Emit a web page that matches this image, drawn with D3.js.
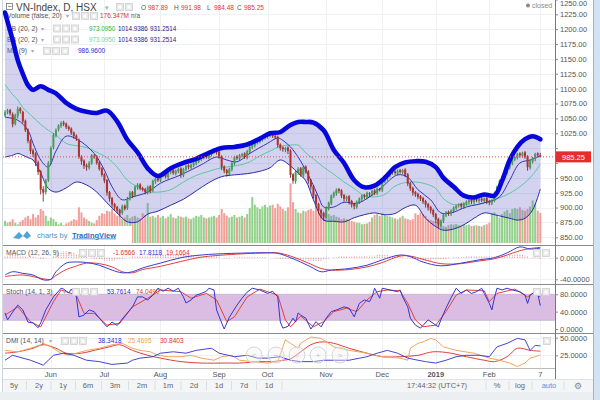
<!DOCTYPE html>
<html><head><meta charset="utf-8">
<script src="https://cdn.jsdelivr.net/npm/d3@7"></script>
<style>
html,body{margin:0;padding:0;background:#fff;overflow:hidden;}
svg{display:block;font-family:"Liberation Sans",Arial,sans-serif;}
</style></head><body>
<svg id="c" width="600" height="400"></svg>
<script>
// ---------- DATA ----------
const opens=[1055,1060,1064,1057,1041,1054,1067,1061,1046,1031,
1013,996,991,976,961,931,926,946,976,1001,
1021,1031,1037,1043,1041,1036,1033,1026,1021,1014,
986,979,971,967,974,987,986,976,966,956,
946,926,916,906,901,896,891,903,899,914,
926,921,934,939,933,931,925,936,929,944,
949,945,954,959,951,959,963,957,961,966,
954,964,971,967,971,974,977,981,984,991,
984,989,994,999,994,986,969,963,957,964,
974,986,982,987,991,984,994,1001,1004,1009,
1011,1014,1017,1019,1021,1026,1021,1019,1006,1001,
997,1001,996,956,944,959,966,954,969,961,
946,936,921,906,896,891,884,899,907,919,
924,931,929,921,914,919,911,906,901,909,
914,921,917,924,921,929,924,931,929,944,
949,954,959,961,957,963,959,964,956,941,
933,926,923,919,916,911,906,901,896,889,
881,871,877,887,893,889,894,899,904,906,
901,906,909,913,909,914,911,915,911,916,
911,907,911,924,934,944,951,959,967,974,
981,984,991,987,993,986,967,977,982,991,987.89];
const closes=[1060,1063,1058,1040,1055,1066,1062,1045,1030,1012,
995,990,975,960,930,925,945,975,1000,1022,
1030,1038,1042,1040,1035,1032,1025,1020,1015,985,
978,970,968,975,988,985,975,965,955,945,
925,915,905,900,895,890,902,898,915,925,
920,935,938,932,930,926,935,928,945,948,
946,955,958,952,960,962,958,962,965,955,
965,970,968,972,975,978,982,985,990,985,
990,995,998,993,985,968,962,958,965,975,
985,983,988,990,985,995,1002,1005,1010,1012,
1015,1018,1020,1022,1025,1020,1018,1005,1000,998,
1000,995,955,945,960,965,955,968,960,945,
935,920,905,895,890,885,900,908,920,925,
930,928,920,915,918,910,905,902,910,915,
920,918,925,922,928,925,932,930,945,950,
955,958,960,958,962,960,963,955,940,932,
925,922,918,915,910,905,900,895,888,880,
872,878,888,892,890,895,900,903,905,902,
907,910,912,910,913,912,914,912,915,910,
908,912,925,935,945,952,960,968,975,982,
985,990,988,992,985,968,978,983,990,988,985.25];
const highs=[1064,1066,1066,1060,1058,1070,1069,1063,1048,1033,
1015,999,993,979,963,936,948,978,1003,1025,
1033,1040,1045,1046,1043,1038,1035,1028,1023,1016,
988,981,974,978,990,990,988,978,968,958,
948,928,918,908,903,898,905,905,918,928,
928,937,941,941,935,933,937,938,947,950,
951,957,960,961,962,964,965,964,967,968,
967,972,973,974,977,980,984,987,992,993,
992,997,1000,1001,996,988,971,965,967,977,
987,988,990,992,993,997,1004,1007,1012,1014,
1017,1020,1022,1024,1027,1028,1023,1021,1008,1003,
1002,1003,998,958,962,968,968,970,971,963,
948,938,923,908,898,893,902,910,922,927,
932,933,931,923,920,921,913,908,912,917,
922,923,927,926,930,931,934,933,947,952,
957,960,962,963,964,965,965,966,958,943,
935,928,925,921,918,913,908,903,898,891,
883,880,890,894,895,897,902,905,907,908,
909,912,914,915,915,916,916,917,917,918,
913,914,927,937,947,954,962,970,977,984,
987,992,993,994,995,988,980,985,992,993,991.98];
const lows=[1052,1057,1055,1035,1038,1050,1058,1042,1027,1008,
990,985,970,955,922,910,922,943,973,998,
1018,1028,1034,1037,1032,1029,1022,1016,1012,982,
972,965,962,964,972,982,972,962,952,941,
920,910,900,895,890,885,888,895,896,912,
916,918,930,929,927,922,922,924,926,940,
943,943,951,949,948,956,955,954,958,950,
951,961,964,964,968,971,975,978,981,982,
981,986,991,989,982,963,958,952,954,961,
971,980,980,984,982,981,990,998,1001,1006,
1008,1011,1014,1016,1018,1017,1015,1001,996,994,
993,990,950,940,940,955,952,950,957,940,
930,915,900,890,882,878,882,895,904,916,
920,924,916,910,911,905,900,897,898,906,
910,914,914,918,919,921,921,927,926,941,
945,951,955,955,954,957,956,951,936,928,
920,918,914,911,906,900,895,890,884,874,
866,868,874,884,886,886,891,896,900,898,
898,903,906,906,906,909,908,909,908,906,
904,904,909,921,931,941,948,956,964,971,
978,981,984,984,982,962,964,974,978,984,984.48];
// volume in millions
const volumes=[130,120,125,140,118,110,125,135,150,160,
140,170,150,165,200,190,160,130,150,140,
125,110,118,105,115,120,130,140,135,210,
180,150,140,130,120,115,135,160,175,170,
190,185,200,175,160,170,140,150,165,145,
155,160,150,145,175,165,235,155,160,150,
165,150,160,145,155,170,150,145,160,155,
150,155,145,140,150,160,155,165,150,145,
150,155,160,150,165,200,175,160,150,155,
165,150,155,160,150,170,205,270,225,210,
200,215,225,210,220,225,205,230,215,200,
190,210,350,240,200,180,175,190,185,195,
200,190,210,180,170,175,165,170,160,165,
155,150,140,145,140,135,130,125,120,118,
110,112,115,125,150,165,170,160,175,165,
160,155,150,145,140,150,160,145,140,135,
140,175,165,180,170,160,140,135,130,125,
115,110,100,95,105,110,108,112,105,100,
110,105,108,100,102,105,100,98,105,110,
120,175,180,165,150,170,185,195,175,200,
205,200,210,195,190,200,215,250,230,190,176.347];
// Bollinger bands (20,2), read at sample bars
const bbIdx=[0,3,5,7,9,11,14,17,20,24,28,32,36,40,44,48,52,56,60,65,70,75,80,85,90,95,100,104,108,112,115,118,121,125,129,133,137,141,145,149,153,157,161,165,169,172,176,180,184,188,192,195,198,201,204,207,210];
const bbUpper=[1228,1182,1148,1125,1106,1098,1104,1098,1092,1076,1066,1061,1059,1063,1045,1014,993,966,953,966,975,982,992,1000,1002,1006,1016,1025,1027,1039,1044,1044,1043,1030,997,975,946,934,937,950,968,976,978,977,968,950,935,920,917,922,920,945,980,1002,1015,1020,1014.94];
const bbLower=[985,988,991,988,984,980,958,932,926,933,943,938,926,908,891,876,876,889,894,904,914,928,942,952,955,957,961,967,980,970,958,945,913,879,877,876,883,888,891,888,890,900,904,882,868,862,864,871,882,891,888,885,882,879,882,896,931.25];
const bbBasis=[1107,1090,1081,1068,1060,1052,1040,1030,1022,1008,1004,1001,993,984,968,946,935,927,926,930,943,954,961,967,970,975,987,995,1003,1005,1005,992,982,968,956,943,932,920,918,922,936,942,943,940,932,915,905,906,904,908,913,918,924,932,942,955,973.1];
const maIdx=[0,5,9,11,14,17,20,24,29,35,39,42,46,50,56,61,69,77,83,87,91,96,103,107,109,112,113,116,120,123,125,129,133,138,143,148,154,158,162,167,171,175,181,189,194,198,202,206,210];
const ma9=[1052,1047,1030,1008,980,968,995,1020,1013,991,963,935,913,918,926,941,955,972,985,980,977,991,1008,1017,1013,1002,997,978,946,918,901,901,909,907,918,935,955,951,930,913,891,891,901,909,918,946,975,980,986.96];
// MACD (12,26,9)
const macdIdx=[0,3,7,11,15,18,20,24,27,32,37,42,46,50,54,61,69,77,89,103,107,112,116,120,124,128,135,142,148,155,159,164,171,179,186,192,197,202,206,210];
const macdLine=[-32,-26,-29,-32,-41,-40,-26,-10,-8,-9,-14,-23,-28,-26,-19,-10,0,5,8,9,8,0,-8,-17,-26,-23,-20,-14,-4,5,2,-8,-15,-10,-4,0,9,20,16,17.81];
const macdSignal=[-35,-33,-32,-35,-39,-40,-33,-22,-17,-10,-11,-17,-26,-28,-22,-16,-7,1,6,9,9,3,-4,-12,-20,-23,-22,-17,-9,3,3,-3,-11,-11,-6,-2,5,13,17,19.17];
const macdHist=[3,4,5,6,6,5,4,3,2,1,
2,3,1,-1,-2,-2,-1,0,0,4,
7,9,11,12,12,11,10,9,7,5,
4,2,1,0,-1,-2,-3,-3,-4,-5,
-5,-6,-6,-5,-4,-3,-2,-1,0,1,
2,3,3,3,3,4,4,5,5,6,
6,6,6,6,6,6,6,6,7,7,
6,6,5,5,5,4,4,4,3,3,
3,3,3,2,1,0,-1,-1,-1,0,
1,1,1,1,1,1,1,1,1,1,
1,1,1,0,0,0,-1,-1,-2,-2,
-2,-3,-3,-4,-4,-4,-4,-5,-5,-5,
-5,-6,-6,-6,-6,-4,-3,-1,0,1,
1,2,2,2,2,2,2,2,3,3,
3,3,3,4,4,4,5,5,5,5,
5,4,3,3,2,2,1,0,-1,-1,
-2,-3,-4,-4,-5,-5,-5,-5,-4,-4,
-4,-4,-3,-2,-1,0,1,1,1,1,
1,2,2,2,2,2,2,2,2,2,
2,2,2,3,3,3,4,4,5,5,
6,6,6,5,4,2,0,-1,-1,-1,-1.66];
// Stochastic (14,1,3)
const stochKIdx=[0,1,3,5,7,9,11,13,14,16,19,22,23,25,26,28,29,31,33,35,37,40,42,44,46,48,50,52,54,56,58,60,62,64,66,68,70,71,73,75,77,79,80,82,83,85,86,88,91,93,95,97,100,103,105,107,108,109,111,113,114,115,116,118,120,122,124,126,128,130,133,135,137,139,141,143,144,145,147,148,151,154,155,156,158,159,161,163,166,168,170,171,173,175,177,179,181,183,185,187,188,190,191,192,193,195,197,199,202,204,205,206,208,209,210];
const stochK=[37,21,39,55,44,16,14,3,14,44,74,94,92,83,92,74,28,32,44,40,25,5,16,8,23,37,51,74,74,67,78,94,87,94,87,94,74,60,67,78,82,87,94,90,44,14,0,27,55,71,85,94,90,82,87,74,16,2,6,25,16,37,32,25,0,17,5,25,40,44,51,48,28,59,67,63,74,94,71,94,90,86,90,74,51,25,9,2,21,13,5,21,48,72,94,82,90,82,86,94,82,59,44,71,94,90,94,90,86,78,59,78,86,82,53.76];
const stochDIdx=[0,5,10,14,19,22,28,31,35,40,45,50,56,61,69,73,79,83,87,90,95,100,107,110,112,116,121,125,129,134,138,142,146,150,155,158,161,164,169,173,177,181,188,190,193,200,205,207,210];
const stochD=[32,51,17,5,63,90,78,36,36,9,13,51,71,90,86,71,82,67,17,28,74,92,78,21,5,30,5,17,40,48,40,67,86,90,88,59,21,5,9,40,78,90,88,63,82,92,74,82,74.05];
// DMI (14,14)
const diPlusIdx=[0,3,10,15,19,23,27,32,37,42,48,50,53,58,61,66,71,75,81,84,90,95,99,103,108,112,116,121,125,129,135,142,146,150,154,158,162,165,169,173,177,181,186,190,193,197,201,204,206,208,210];
const diPlus=[18,25,18,11,25,28,25,18,16,12,14,18,21,23,28,30,28,32,35,28,23,25,21,21,23,18,16,16,18,18,18,23,28,32,28,21,18,16,14,18,23,25,25,23,37,42,49,47,32,39,38.34];
const diMinusIdx=[0,5,10,14,15,18,22,25,28,32,37,42,46,50,53,57,60,64,69,73,77,82,85,89,92,97,103,107,110,112,115,116,120,124,129,135,142,148,155,158,159,162,164,167,169,172,177,184,190,194,198,201,204,206,208,210];
const diMinus=[32,30,35,40,42,37,28,25,28,32,35,40,42,35,32,30,25,23,23,25,21,18,23,25,18,16,14,16,47,42,35,42,51,49,37,32,28,23,21,18,35,42,44,49,47,37,32,28,21,18,14,9,14,21,23,25.47];
const adxIdx=[0,5,11,15,20,24,30,35,41,45,50,56,61,69,77,87,92,100,105,109,112,116,120,124,129,135,142,148,155,162,168,175,181,188,192,197,201,206,210];
const adx=[28,30,35,40,35,28,28,32,37,40,32,25,21,16,14,14,14,16,16,18,20,30,40,44,42,35,28,23,23,25,30,28,23,18,16,23,35,32,30.84];
// Axis labels
const timeIdx=[18,39,61,84,103,126,148,169,190,210];
const timeLabels=["Jun","Jul","Aug","Sep","Oct","Nov","Dec","2019","Feb","7"];
const priceTicks=[850,875,900,925,950,975,1000,1025,1050,1075,1100,1125,1150,1175,1200,1225,1250];
const macdTicks=[0,-40];
const stochTicks=[0,40,80];
const dmiTicks=[25,50];
const rangeButtons=["5y","2y","1y","6m","3m","2m","1m","2d","1d","7d","1d"];

// ---------- DRAW ----------
const svg=d3.select('#c');
const N=closes.length;
const AX=555;
const x=d3.scaleLinear().domain([0,N-1]).range([5,540.3]);
const yP=d3.scaleLinear().domain([850,1225]).range([237.3,14.3]);
const yV=d3.scaleLinear().domain([0,400]).range([243,175]);
const yM=d3.scaleLinear().domain([-40,0]).range([279.3,257.7]);
const yS=d3.scaleLinear().domain([0,80]).range([329,294.3]);
const yD=d3.scaleLinear().domain([25,50]).range([355.3,337.7]);
const panes={main:[0,245.5],macd:[245.5,284],stoch:[284,333],dmi:[333,368]};
const lastC=closes[N-1];

svg.append('rect').attr('width',600).attr('height',400).attr('fill','#fff');
const defs=svg.append('defs');
Object.entries(panes).forEach(([k,[a,b]])=>{
  defs.append('clipPath').attr('id','clip-'+k).append('rect')
    .attr('x',3).attr('y',a).attr('width',AX-3).attr('height',b-a);
});

// grids
const grid=svg.append('g').attr('stroke','#eef0f3').attr('stroke-width',1);
priceTicks.forEach(v=>{const yy=Math.round(yP(v))+0.5; if(yy>0&&yy<245) grid.append('line').attr('x1',3).attr('x2',AX).attr('y1',yy).attr('y2',yy);});
macdTicks.forEach(v=>{const yy=Math.round(yM(v))+0.5; grid.append('line').attr('x1',3).attr('x2',AX).attr('y1',yy).attr('y2',yy);});
dmiTicks.forEach(v=>{const yy=Math.round(yD(v))+0.5; grid.append('line').attr('x1',3).attr('x2',AX).attr('y1',yy).attr('y2',yy);});
timeIdx.forEach(i=>{const xx=Math.round(x(i))+0.5; grid.append('line').attr('x1',xx).attr('x2',xx).attr('y1',0).attr('y2',368);});

// helpers
function txt(g,xx,yy,s,o={}){
  return g.append('text').attr('x',xx).attr('y',yy).text(s)
   .attr('font-size',o.size||7).attr('fill',o.fill||'#555')
   .attr('text-anchor',o.anchor||'start').attr('font-weight',o.weight||'normal');
}
function boxes(g,xx,yy,n){
  for(let k=0;k<n;k++){
    g.append('rect').attr('x',xx+k*9+0.5).attr('y',yy+0.5).attr('width',7).attr('height',7)
     .attr('fill','#e9e9e9').attr('stroke','#cfcfcf').attr('stroke-width',0.8);
    g.append('rect').attr('x',xx+k*9+2.5).attr('y',yy+2.5).attr('width',3).attr('height',3).attr('fill','#fff');
  }
}
const lineGen=(idxArr,vals,ys,curve)=>d3.line().x((d,k)=>x(idxArr[k])).y(d=>ys(d)).curve(curve||d3.curveLinear)(vals);

// ---------- legends (drawn first so the thick band passes over them) ----------
const L=svg.append('g');
L.append('rect').attr('x',6.5).attr('y',3.5).attr('width',6).attr('height',6).attr('fill','none').attr('stroke','#777').attr('stroke-width',0.8);
L.append('line').attr('x1',8).attr('x2',11.5).attr('y1',6.5).attr('y2',6.5).attr('stroke','#777').attr('stroke-width',0.8);
txt(L,16,10.5,'VN-Index, D, HSX',{size:10,fill:'#444'});
txt(L,105,10,'\u25be',{size:7,fill:'#aaa'});
boxes(L,116,3,2);
[['O',141,'987.89'],['H',174,'991.98'],['L',207,'984.48'],['C',237,'985.25']].forEach(([l,xx,v])=>{
  txt(L,xx,10,l,{size:6.5,fill:'#555'}); txt(L,xx+7,10,v,{size:6.5,fill:'#d33'});
});
txt(L,7,18,'Volume (false, 20)',{size:6.8});
txt(L,66,18,'\u25be',{size:6,fill:'#aaa'});
boxes(L,72,12,3);
txt(L,100,18,'176.347M',{size:6.5,fill:'#d33'});
txt(L,131,18,'n/a',{size:6.5,fill:'#555'});
[[30.5,'#36b03c'],[41.5,'#6fd6a8']].forEach(([yy,c])=>{
  txt(L,7,yy,'BB (20, 2)',{size:6.8});
  txt(L,41,yy,'\u25be',{size:6,fill:'#aaa'});
  boxes(L,53,yy-6,3);
  txt(L,89,yy,'973.0950',{size:6.3,fill:c});
  txt(L,118,yy,'1014.9386',{size:6.3,fill:'#1c1c90'});
  txt(L,150,yy,'931.2514',{size:6.3,fill:'#1c1c90'});
});
txt(L,7,53,'MA (9)',{size:6.8});
txt(L,31,53,'\u25be',{size:6,fill:'#aaa'});
boxes(L,43,47,3);
txt(L,78,53,'986.9600',{size:6.5,fill:'#2b2bd0'});

// ---------- main pane ----------
const gm=svg.append('g').attr('clip-path','url(#clip-main)');
const idx=d3.range(N);
const up=i=>closes[i]>=opens[i];
gm.selectAll('rect.vol').data(idx).join('rect').attr('class','vol')
  .attr('x',i=>x(i)-1).attr('width',2)
  .attr('y',i=>yV(volumes[i])).attr('height',i=>yV(0)-yV(volumes[i]))
  .attr('fill',i=>up(i)?'#92d08c':'#f39f99');
gm.append('path').attr('d',d3.area().x((d,k)=>x(bbIdx[k])).y0((d,k)=>yP(bbLower[k])).y1(d=>yP(d))
  .curve(d3.curveCatmullRom)(bbUpper)).attr('fill','rgb(110,110,205)').attr('fill-opacity',0.3);
gm.append('path').attr('d',lineGen(bbIdx,bbBasis,yP,d3.curveCatmullRom)).attr('fill','none').attr('stroke','#5cc6a3').attr('stroke-width',1);
gm.append('path').attr('d',lineGen(bbIdx,bbLower,yP,d3.curveCatmullRom)).attr('fill','none').attr('stroke','#2b2ba8').attr('stroke-width',1);
gm.append('path').attr('d',lineGen(maIdx,ma9,yP,d3.curveCatmullRom)).attr('fill','none').attr('stroke','#3434b8').attr('stroke-width',1);
gm.selectAll('line.wick').data(idx).join('line').attr('class','wick')
  .attr('x1',i=>x(i)).attr('x2',i=>x(i)).attr('y1',i=>yP(highs[i])).attr('y2',i=>yP(lows[i]))
  .attr('stroke',i=>up(i)?'#2a5a36':'#5b1a13').attr('stroke-width',0.8);
gm.selectAll('rect.body').data(idx).join('rect').attr('class','body')
  .attr('x',i=>x(i)-1).attr('width',2)
  .attr('y',i=>yP(Math.max(opens[i],closes[i])))
  .attr('height',i=>Math.max(0.8,Math.abs(yP(opens[i])-yP(closes[i]))))
  .attr('fill',i=>up(i)?'#43a055':'#b3312b');
gm.append('path').attr('d',lineGen(bbIdx,bbUpper,yP,d3.curveCatmullRom)).attr('fill','none')
  .attr('stroke','#0707dc').attr('stroke-width',4.6).attr('stroke-linejoin','round').attr('stroke-linecap','round');
gm.append('line').attr('x1',3).attr('x2',AX).attr('y1',yP(lastC)).attr('y2',yP(lastC))
  .attr('stroke','#e05050').attr('stroke-width',1).attr('stroke-dasharray','1,2');

// TradingView logo box
const lg=svg.append('g');
lg.append('rect').attr('x',3).attr('y',226).attr('width',129).attr('height',18).attr('fill','#fff');
lg.append('path').attr('d','M13,238 L19,232 L23,236 L27,231 L31,236 L27,239 L23,236 L19,239 Z').attr('fill','#4fa3d8');
txt(lg,37,237.5,'charts by',{size:7.5,fill:'#5a8fc0'});
txt(lg,72,237.5,'TradingView',{size:7.5,fill:'#1f6fc0',weight:'bold'}).attr('text-decoration','underline');

// ---------- MACD ----------
const gM=svg.append('g').attr('clip-path','url(#clip-macd)');
gM.selectAll('line.h').data(idx).join('line').attr('class','h')
  .attr('x1',i=>x(i)).attr('x2',i=>x(i)).attr('y1',yM(0)).attr('y2',i=>yM(macdHist[i]))
  .attr('stroke','#e06a6a').attr('stroke-width',0.9).attr('stroke-dasharray','1,1');
gM.append('path').attr('d',lineGen(macdIdx,macdSignal,yM,d3.curveCatmullRom)).attr('fill','none').attr('stroke','#e0403c').attr('stroke-width',1);
gM.append('path').attr('d',lineGen(macdIdx,macdLine,yM,d3.curveCatmullRom)).attr('fill','none').attr('stroke','#3a3ad4').attr('stroke-width',1);

// ---------- Stoch ----------
const gS=svg.append('g').attr('clip-path','url(#clip-stoch)');
gS.append('rect').attr('x',3).attr('width',AX-3).attr('y',yS(80)).attr('height',yS(20)-yS(80)).attr('fill','#dbbde3');
[20,80].forEach(v=>gS.append('line').attr('x1',3).attr('x2',AX).attr('y1',yS(v)).attr('y2',yS(v)).attr('stroke','#b9a0c4').attr('stroke-width',0.6));
gS.append('path').attr('d',lineGen(stochDIdx,stochD,yS)).attr('fill','none').attr('stroke','#e2403e').attr('stroke-width',1);
gS.append('path').attr('d',lineGen(stochKIdx,stochK,yS)).attr('fill','none').attr('stroke','#3434d2').attr('stroke-width',1);

// ---------- DMI ----------
const gD=svg.append('g').attr('clip-path','url(#clip-dmi)');
gD.append('path').attr('d',lineGen(adxIdx,adx,yD,d3.curveCatmullRom)).attr('fill','none').attr('stroke','#e0403c').attr('stroke-width',1);
gD.append('path').attr('d',lineGen(diMinusIdx,diMinus,yD)).attr('fill','none').attr('stroke','#f2a65a').attr('stroke-width',1);
gD.append('path').attr('d',lineGen(diPlusIdx,diPlus,yD)).attr('fill','none').attr('stroke','#4545cf').attr('stroke-width',1);
const nav=svg.append('g');
[["<",254],["\u2212",276],["\u25cb",297],["+",318],[">",340]].forEach(([s,cx])=>{
  nav.append('circle').attr('cx',cx).attr('cy',355).attr('r',8).attr('fill','rgba(240,240,240,0.35)').attr('stroke','#d6d6d6').attr('stroke-width',1);
  txt(nav,cx,358,s,{size:8,fill:'#c4c4c4',anchor:'middle'});
});

// ---------- separators & frame ----------
const fr=svg.append('g').attr('stroke','#8a8a8a').attr('stroke-width',1);
[245.5,284.5,333.5].forEach(yy=>fr.append('line').attr('x1',2).attr('x2',593).attr('y1',yy).attr('y2',yy));
fr.append('line').attr('x1',2).attr('x2',AX).attr('y1',368.5).attr('y2',368.5).attr('stroke','#bbb');
fr.append('line').attr('x1',AX+0.5).attr('x2',AX+0.5).attr('y1',0).attr('y2',379).attr('stroke','#777');
fr.append('line').attr('x1',2.5).attr('x2',2.5).attr('y1',0).attr('y2',392).attr('stroke','#cfd6dc');
svg.append('rect').attr('x',593).attr('y',0).attr('width',7).attr('height',400).attr('fill','#d3e3ef');
svg.append('line').attr('x1',593.5).attr('x2',593.5).attr('y1',0).attr('y2',400).attr('stroke','#9fb5c6');

// ---------- right axes ----------
function rAxis(scale,ticks,dec,hide){
  const g=svg.append('g').attr('transform',`translate(${AX},0)`)
    .call(d3.axisRight(scale).tickValues(ticks).tickSize(3).tickFormat(d=>(hide&&hide(d))?'':d.toFixed(dec)));
  g.select('.domain').remove();
  g.selectAll('line').attr('stroke','#888');
  g.selectAll('text').attr('font-size',7.5).attr('fill','#555').attr('x',5)
    .attr('font-family','"Liberation Sans",Arial,sans-serif');
  return g;
}
const pa=rAxis(yP,priceTicks,2,d=>Math.abs(yP(d)-yP(lastC))<9);
pa.selectAll('.tick').filter(d=>yP(d)<3).select('text').attr('dy','0.85em');
rAxis(yM,macdTicks,4);
rAxis(yS,stochTicks,4);
rAxis(yD,dmiTicks,4);
svg.append('rect').attr('x',AX+1).attr('y',yP(lastC)-5.5).attr('width',35).attr('height',11).attr('fill','#e52d2d');
txt(svg,AX+18.5,yP(lastC)+2.7,lastC.toFixed(2),{size:7.5,fill:'#fff',anchor:'middle'});

// ---------- time axis ----------
timeIdx.forEach((i,k)=>txt(svg,x(i),376.5,timeLabels[k],{size:7.5,fill:'#555',anchor:'middle',weight:timeLabels[k]==='2019'?'bold':'normal'}));

// ---------- bottom toolbar ----------
const tb=svg.append('g');
tb.append('rect').attr('x',3).attr('y',379).attr('width',590).attr('height',13).attr('fill','#f4f5f7');
tb.append('line').attr('x1',3).attr('x2',593).attr('y1',379.5).attr('y2',379.5).attr('stroke','#e0e3e6');
tb.append('rect').attr('x',0).attr('y',392).attr('width',593).attr('height',8).attr('fill','#eceff2');
const bx=[14,39,63,88,115,142,168,194,219,244,269];
rangeButtons.forEach((s,k)=>{
  txt(tb,bx[k],388,s,{size:7.5,fill:'#666',anchor:'middle'});
  const sx=(k<bx.length-1?(bx[k]+bx[k+1])/2:282);
  tb.append('line').attr('x1',sx).attr('x2',sx).attr('y1',381).attr('y2',390).attr('stroke','#dcdfe2');
});
txt(tb,437,388,'17:44:32 (UTC+7)',{size:7.5,fill:'#666',anchor:'middle'});
[486,509,532,564].forEach(sx=>tb.append('line').attr('x1',sx).attr('x2',sx).attr('y1',381).attr('y2',390).attr('stroke','#dcdfe2'));
txt(tb,497,388,'%',{size:7.5,fill:'#666',anchor:'middle'});
txt(tb,520,388,'log',{size:7.5,fill:'#666',anchor:'middle'});
txt(tb,549,388,'auto',{size:7.5,fill:'#3d9ae0',anchor:'middle'});
txt(tb,578,389,'\u2699',{size:9,fill:'#888',anchor:'middle'});

// closed marker
svg.append('circle').attr('cx',528).attr('cy',5.5).attr('r',2).attr('fill','#888');
txt(svg,532,8,'closed',{size:7,fill:'#888'});

// pane legends
const PL=svg.append('g');
function paneLegend(yy,name,nx,bx0,vals){
  txt(PL,6,yy,name,{size:6.8});
  txt(PL,nx,yy,'\u25be',{size:6,fill:'#aaa'});
  boxes(PL,bx0,yy-6,3);
  vals.forEach(([xx,s,c])=>txt(PL,xx,yy,s,{size:6.5,fill:c}));
}
paneLegend(255,'MACD (12, 26, 9)',68,79,[[113,'-1.6566','#d33'],[139,'17.8118','#2b2bd0'],[166,'19.1664','#d33']]);
paneLegend(294,'Stoch (14, 1, 3)',63,72,[[107,'53.7614','#2b2bd0'],[136,'74.0490','#d33']]);
paneLegend(343,'DMI (14, 14)',49,61,[[98,'38.3418','#2b2bd0'],[128,'25.4695','#f0a050'],[160,'30.8403','#d33']]);
[[533,249,2],[533,288,2],[543,337,1]].forEach(([xx,yy,n])=>boxes(PL,xx,yy,n));
</script>
</body></html>
